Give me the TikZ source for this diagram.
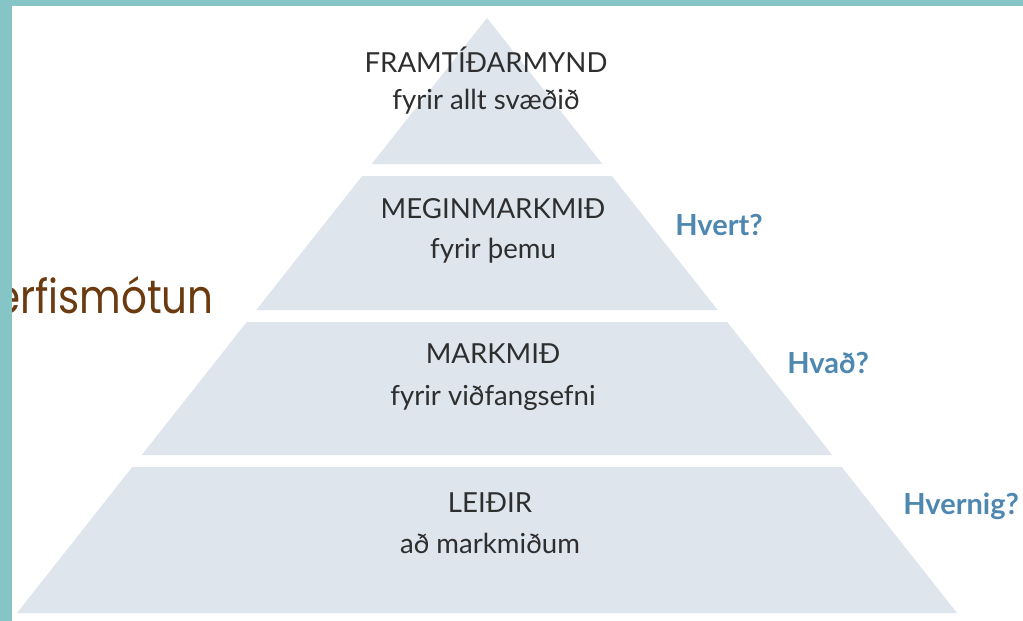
\documentclass[tikz,border=0pt]{standalone}
\usepackage{fontspec}
\setmainfont{Lato}
\newfontfamily\titlefont{Poppins}
\usetikzlibrary{positioning}

\definecolor{frame}{HTML}{86C5C6}
\definecolor{layerfill}{HTML}{DFE5EC}
\definecolor{brown}{HTML}{6B3A0E}
\definecolor{askblue}{HTML}{4E88B0}
\definecolor{inktext}{HTML}{2E2E2E}

\begin{document}
\begin{tikzpicture}[x=0.5pt,y=-0.5pt,
    layer/.style={fill=layerfill},
    level/.style={text=inktext,anchor=base,inner sep=0pt,font=\fontsize{13.8}{16}\selectfont},
    ask/.style={text=askblue,anchor=base west,inner sep=0pt,font=\bfseries\fontsize{14.5}{16}\selectfont}]
    \useasboundingbox (0,0) rectangle (1023,621);
    \fill[white] (0,0) rectangle (1023,621);

    % pyramid
    \fill[layer] (487,18) -- (602.3,164) -- (371.7,164) -- cycle;
    \fill[layer] (362.2,176) -- (611.8,176) -- (717.7,310) -- (256.3,310) -- cycle;
    \fill[layer] (246.8,322) -- (727.2,322) -- (832.2,455) -- (141.8,455) -- cycle;
    \fill[layer] (132.3,467) -- (841.7,467) -- (957,613) -- (17,613) -- cycle;

    \node[level] (vision) at (486,72) {FRAMTÍÐARMYND};
    \node[level] (visionsub) at (486,109) {fyrir allt svæðið};
    \node[level] (main) at (493,218) {MEGINMARKMIÐ};
    \node[level] (mainsub) at (493,258) {fyrir þemu};
    \node[level] (goals) at (493,363) {MARKMIÐ};
    \node[level] (goalssub) at (493,405) {fyrir viðfangsefni};
    \node[level] (means) at (490,512) {LEIÐIR};
    \node[level] (meanssub) at (490,553) {að markmiðum};

    \node[ask] (where) at (675,235) {Hvert?};
    \node[ask] (what) at (787,373) {Hvað?};
    \node[ask] (how) at (903,514) {Hvernig?};

    \node[text=brown,font=\titlefont\fontsize{23.5}{26}\selectfont,inner sep=0pt,
      xscale=0.86,transform shape,anchor=base east] (title) at (214,313) {erfismótun};

    % frame
    \fill[frame] (0,0) rectangle (1023,6);
    \fill[frame] (0,0) rectangle (12,621);
\end{tikzpicture}
\end{document}
